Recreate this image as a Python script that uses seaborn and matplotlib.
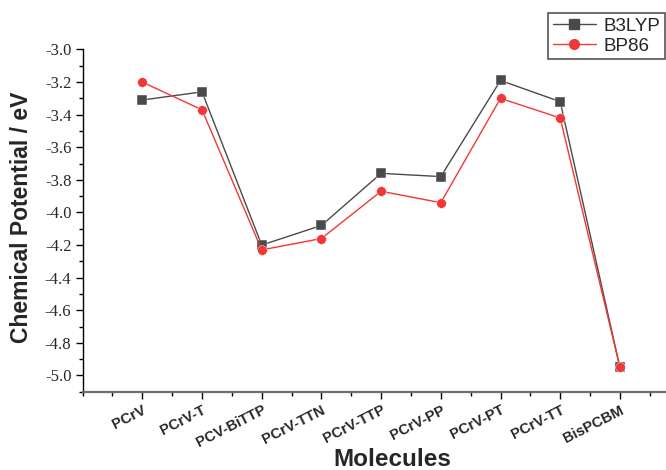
import matplotlib
matplotlib.use("Agg")
import matplotlib.pyplot as plt
import matplotlib.transforms as mtransforms
from matplotlib.ticker import MultipleLocator
from matplotlib.lines import Line2D
import seaborn as sns
import pandas as pd
import numpy as np

molecules = ["PCrV", "PCrV-T", "PCV-BiTTP", "PCrV-TTN", "PCrV-TTP",
             "PCrV-PP", "PCrV-PT", "PCrV-TT", "BisPCBM"]
b3lyp = [-3.31, -3.26, -4.20, -4.08, -3.76, -3.78, -3.19, -3.32, -4.95]
bp86 = [-3.20, -3.37, -4.23, -4.16, -3.87, -3.94, -3.30, -3.42, -4.95]
yticks = [-5.0, -4.8, -4.6, -4.4, -4.2, -4.0, -3.8, -3.6, -3.4, -3.2, -3.0]

sns.set_theme(style="ticks")
plt.rcParams["font.family"] = ["Liberation Sans", "DejaVu Sans"]

df = pd.DataFrame({
    "pos": list(range(len(molecules))) * 2,
    "value": b3lyp + bp86,
    "Method": ["B3LYP"] * len(molecules) + ["BP86"] * len(molecules),
})

W, H = 666, 470
fig = plt.figure(figsize=(W / 100, H / 100), dpi=100)
left, right, top, bottom = 82.6, 701.0, 49.5, 391.7
ax = fig.add_axes([left / W, 1 - bottom / H, (right - left) / W, (bottom - top) / H])

palette = {"B3LYP": "#4a4a4a", "BP86": "#f03838"}
sns.lineplot(data=df, x="pos", y="value", hue="Method", style="Method",
             markers={"B3LYP": "s", "BP86": "o"}, dashes=False,
             palette=palette, sort=False, ax=ax, linewidth=1.0,
             markersize=7, markeredgewidth=0.3, legend=False)

ax.set_xlim(-1, -1 + (right - left) / 59.7)
ax.set_ylim(-5.10, -3.0)

ax.set_xticks(range(len(molecules)))
ax.set_xticklabels(molecules, rotation=27, ha="right", rotation_mode="anchor",
                   fontsize=10.5, fontweight="bold")
offset = mtransforms.ScaledTranslation(6 / 100, 0, fig.dpi_scale_trans)
for lab in ax.get_xticklabels():
    lab.set_transform(lab.get_transform() + offset)
ax.xaxis.set_minor_locator(MultipleLocator(0.5))
ax.set_yticks(yticks)
ax.set_yticklabels([f"{v:.1f}" for v in yticks],
                   family=["Liberation Serif"], fontsize=12)
ax.yaxis.set_minor_locator(MultipleLocator(0.1))

ax.tick_params(axis="both", which="major", direction="out", length=5, width=1, color="black")
ax.tick_params(axis="both", which="minor", direction="out", length=3, width=1, color="black")
ax.tick_params(axis="x", which="major", pad=3)
ax.tick_params(axis="y", which="major", pad=3)

for s in ["top", "right"]:
    ax.spines[s].set_visible(False)
ax.spines["left"].set_color("black")
ax.spines["left"].set_linewidth(1.0)
ax.spines["bottom"].set_color("#6e6e6e")
ax.spines["bottom"].set_linewidth(1.6)

ax.set_xlabel("Molecules", fontsize=17.5, fontweight="bold", va="center")
ax.xaxis.set_label_coords(392 / W, 1 - 459 / H, transform=fig.transFigure)
ax.set_ylabel("Chemical Potential / eV", fontsize=16.5, fontweight="bold", va="center")
ax.yaxis.set_label_coords(22 / W, 1 - 217 / H, transform=fig.transFigure)

handles = [
    Line2D([], [], color=palette["B3LYP"], marker="s", markersize=7, linewidth=1.0),
    Line2D([], [], color=palette["BP86"], marker="o", markersize=7, linewidth=1.0),
]
leg = fig.legend(handles, ["B3LYP", "BP86"], loc="upper right",
                 bbox_to_anchor=(665 / W, 1 - 13 / H), fontsize=13.5,
                 frameon=True, fancybox=False, framealpha=1,
                 edgecolor="#555555", borderpad=0.25, labelspacing=0.15,
                 handlelength=2.3, handletextpad=0.4, borderaxespad=0)
leg.get_frame().set_linewidth(1.2)

fig.savefig("out.png", dpi=100)
